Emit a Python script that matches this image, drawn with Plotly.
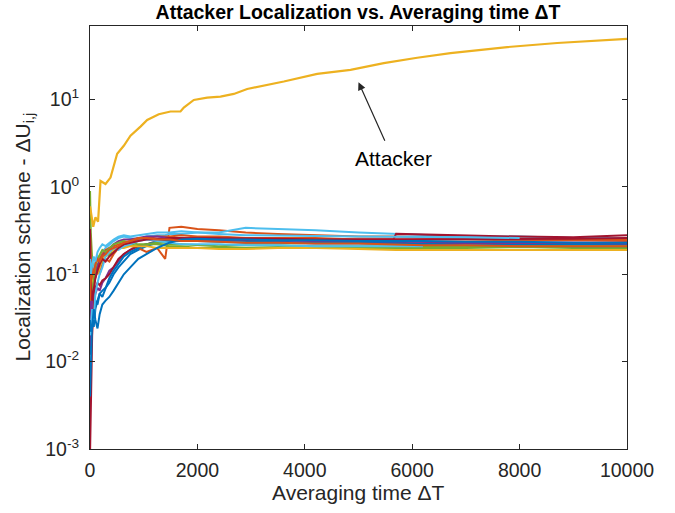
import plotly.graph_objects as go

# ---------------- data ----------------
X_GRID = [1, 15, 40, 70, 100, 140, 180, 230, 290, 360, 440, 530, 630, 750, 900,
          1050, 1250, 1400, 1480, 1700, 2000, 2400, 2900, 3500, 4200, 5000,
          5650, 5700, 6200, 7000, 8000, 9000, 10000]

node_blue_1 = [0.012, 0.03, 0.024, 0.035, 0.05, 0.045, 0.06, 0.065, 0.07, 0.08, 0.1, 0.12, 0.14, 0.17, 0.19, 0.21, 0.23, 0.235, 0.24, 0.245, 0.25, 0.245, 0.24, 0.235, 0.23, 0.23, 0.23, 0.23, 0.225, 0.225, 0.22, 0.22, 0.22]
node_orange_1 = [0.15, 0.06, 0.09, 0.07, 0.1, 0.12, 0.1, 0.13, 0.15, 0.14, 0.17, 0.2, 0.22, 0.21, 0.2, 0.18, 0.2, 0.15, 0.34, 0.35, 0.33, 0.32, 0.3, 0.29, 0.28, 0.27, 0.27, 0.27, 0.265, 0.26, 0.255, 0.25, 0.25]
node_purple_1 = [0.02, 0.015, 0.03, 0.05, 0.06, 0.07, 0.065, 0.08, 0.09, 0.11, 0.12, 0.14, 0.17, 0.19, 0.21, 0.22, 0.23, 0.24, 0.24, 0.25, 0.26, 0.255, 0.25, 0.25, 0.24, 0.24, 0.24, 0.24, 0.235, 0.23, 0.23, 0.23, 0.225]
node_green_1 = [0.9, 0.3, 0.15, 0.1, 0.12, 0.11, 0.13, 0.14, 0.16, 0.17, 0.18, 0.2, 0.21, 0.22, 0.21, 0.22, 0.22, 0.215, 0.21, 0.21, 0.2, 0.2, 0.2, 0.205, 0.2, 0.2, 0.2, 0.2, 0.2, 0.2, 0.205, 0.2, 0.2]
node_lblue_1 = [0.05, 0.04, 0.08, 0.12, 0.14, 0.16, 0.15, 0.18, 0.2, 0.22, 0.24, 0.26, 0.27, 0.26, 0.25, 0.27, 0.28, 0.28, 0.29, 0.29, 0.3, 0.3, 0.34, 0.33, 0.32, 0.3, 0.29, 0.29, 0.28, 0.27, 0.27, 0.26, 0.26]
node_red_1 = [0.0009, 0.004, 0.02, 0.05, 0.07, 0.08, 0.075, 0.085, 0.09, 0.1, 0.12, 0.15, 0.17, 0.19, 0.21, 0.22, 0.24, 0.245, 0.25, 0.25, 0.26, 0.26, 0.25, 0.25, 0.25, 0.25, 0.25, 0.29, 0.285, 0.28, 0.27, 0.265, 0.28]
node_blue_2 = [0.004, 0.01, 0.03, 0.025, 0.04, 0.05, 0.06, 0.055, 0.07, 0.09, 0.11, 0.13, 0.16, 0.18, 0.2, 0.22, 0.235, 0.24, 0.24, 0.24, 0.24, 0.235, 0.23, 0.23, 0.225, 0.225, 0.22, 0.22, 0.22, 0.215, 0.215, 0.21, 0.21]
node_orange_2 = [0.3, 0.12, 0.08, 0.1, 0.09, 0.12, 0.15, 0.17, 0.19, 0.2, 0.21, 0.22, 0.23, 0.24, 0.25, 0.26, 0.27, 0.27, 0.27, 0.28, 0.27, 0.27, 0.26, 0.26, 0.26, 0.25, 0.25, 0.25, 0.25, 0.25, 0.245, 0.245, 0.24]
node_yellow_1 = [0.2, 0.1, 0.07, 0.09, 0.11, 0.1, 0.12, 0.15, 0.16, 0.18, 0.19, 0.2, 0.2, 0.21, 0.21, 0.21, 0.2, 0.2, 0.2, 0.2, 0.2, 0.195, 0.195, 0.2, 0.2, 0.195, 0.19, 0.19, 0.19, 0.19, 0.19, 0.19, 0.19]
node_purple_2 = [0.06, 0.03, 0.05, 0.08, 0.1, 0.13, 0.14, 0.16, 0.18, 0.2, 0.22, 0.24, 0.25, 0.25, 0.26, 0.27, 0.27, 0.265, 0.26, 0.26, 0.25, 0.25, 0.25, 0.245, 0.24, 0.24, 0.235, 0.235, 0.235, 0.23, 0.23, 0.23, 0.23]
node_green_2 = [0.1, 0.05, 0.06, 0.09, 0.12, 0.15, 0.17, 0.19, 0.18, 0.2, 0.22, 0.23, 0.24, 0.23, 0.22, 0.22, 0.23, 0.23, 0.22, 0.22, 0.215, 0.21, 0.215, 0.215, 0.21, 0.21, 0.21, 0.21, 0.21, 0.21, 0.21, 0.21, 0.21]
node_lblue_2 = [0.02, 0.025, 0.04, 0.03, 0.06, 0.08, 0.1, 0.12, 0.16, 0.18, 0.2, 0.19, 0.21, 0.22, 0.24, 0.25, 0.24, 0.235, 0.23, 0.22, 0.22, 0.22, 0.215, 0.215, 0.21, 0.21, 0.21, 0.21, 0.21, None, None, None, None]
node_red_2 = [0.33, 0.08, 0.05, 0.07, 0.09, 0.11, 0.13, 0.15, 0.14, 0.16, 0.18, 0.2, 0.22, 0.23, 0.24, 0.25, 0.25, 0.255, 0.26, 0.26, 0.26, 0.26, 0.255, 0.255, 0.25, 0.25, 0.25, 0.25, 0.25, 0.25, 0.25, 0.255, 0.26]
node_blue_3 = [0.03, 0.022, 0.025, 0.04, 0.03, 0.024, 0.035, 0.045, 0.05, 0.055, 0.065, 0.08, 0.1, 0.12, 0.15, 0.17, 0.2, 0.22, 0.23, 0.25, 0.255, 0.25, 0.25, 0.245, 0.245, 0.24, 0.24, 0.24, 0.24, 0.235, 0.235, 0.23, 0.23]
node_orange_3 = [0.05, 0.09, 0.12, 0.1, 0.13, 0.15, 0.14, 0.16, 0.17, 0.19, 0.2, 0.21, 0.23, 0.24, 0.26, 0.26, 0.25, 0.25, 0.25, 0.24, 0.24, 0.235, 0.23, 0.23, 0.225, 0.225, 0.22, 0.22, 0.215, 0.215, 0.21, 0.21, 0.21]
node_lblue_3 = [0.15, 0.1, 0.13, 0.16, 0.14, 0.18, 0.2, 0.22, 0.21, 0.23, 0.25, 0.27, 0.28, 0.27, 0.28, 0.29, 0.3, 0.3, 0.3, 0.31, 0.3, 0.29, 0.28, 0.28, 0.275, 0.27, 0.27, 0.27, 0.27, 0.265, 0.26, None, None]

ATTACKER_X = [1, 60, 102, 150, 196, 289, 382, 506, 629, 754, 940, 1065, 1281, 1499, 1685,
              1747, 1933, 2182, 2430, 2678, 2927, 3175, 3609, 4231, 4851, 5471, 6093, 6713,
              7769, 8700, 10000]
ATTACKER_Y = [0.6, 0.35, 0.45, 0.4, 1.17, 1.08, 1.28, 2.4, 2.96, 3.86, 4.9, 5.85, 6.8, 7.3, 7.3,
              8.1, 9.9, 10.5, 10.8, 11.6, 13.2, 14.1, 16.1, 19.7, 21.9, 26.1, 30.1, 34.0,
              39.9, 44.4, 49.5]

X_TICKS = [0, 2000, 4000, 6000, 8000, 10000]
Y_TICKS = [1e-3, 1e-2, 1e-1, 1e0, 1e1]
Y_TICK_TEXT = ["10<sup>-3</sup>", "10<sup>-2</sup>", "10<sup>-1</sup>", "10<sup>0</sup>", "10<sup>1</sup>"]
Y_MINOR = [m * 10.0 ** e for e in range(-3, 2) for m in range(2, 10)]

BLUE, ORANGE, YELLOW, PURPLE, GREEN, LBLUE, RED = (
    "#0072BD", "#D95319", "#EDB120", "#7E2F8E", "#77AC30", "#4DBEEE", "#A2142F")

cluster = [
    (node_blue_1, BLUE), (node_orange_1, ORANGE), (node_purple_1, PURPLE),
    (node_green_1, GREEN), (node_lblue_1, LBLUE), (node_red_1, RED),
    (node_blue_2, BLUE), (node_orange_2, ORANGE), (node_yellow_1, YELLOW),
    (node_purple_2, PURPLE), (node_green_2, GREEN), (node_lblue_2, LBLUE),
    (node_red_2, RED), (node_blue_3, BLUE), (node_orange_3, ORANGE),
    (node_lblue_3, LBLUE),
]

FONT = "Liberation Sans, Arial, Helvetica, sans-serif"
AX = "#262626"
Y_RANGE = [-3, 1.842]

fig = go.Figure()
for vals, col in cluster:
    fig.add_trace(go.Scatter(x=X_GRID, y=vals, mode="lines",
                             line=dict(color=col, width=2), connectgaps=False,
                             showlegend=False, hoverinfo="skip"))
fig.add_trace(go.Scatter(x=ATTACKER_X, y=ATTACKER_Y, mode="lines",
                         line=dict(color=YELLOW, width=2.2), showlegend=False))

fig.update_layout(
    width=675, height=513,
    margin=dict(l=90, r=48, t=26, b=64),
    paper_bgcolor="white", plot_bgcolor="white",
    font=dict(family=FONT, color=AX, size=19),
    title=dict(text="<b>Attacker Localization vs. Averaging time ΔT</b>",
               x=358 / 675, xanchor="center", y=1 - 12 / 513, yanchor="middle",
               font=dict(size=19.5, color="black", family=FONT)),
    # overlay axis carrying only the log minor ticks (2..9 of each decade)
    yaxis2=dict(overlaying="y", side="left", type="log", range=Y_RANGE,
                tickmode="array", tickvals=Y_MINOR, showticklabels=False,
                ticks="inside", ticklen=3, tickwidth=1, tickcolor=AX,
                mirror="allticks", showline=True, linecolor=AX, linewidth=1,
                showgrid=False, zeroline=False, fixedrange=True),
)
fig.update_xaxes(range=[0, 10000], tickvals=X_TICKS, ticktext=[str(v) for v in X_TICKS],
                 showgrid=False, zeroline=False, showline=True, linecolor=AX, linewidth=1,
                 mirror="allticks", ticks="inside", ticklen=5, tickcolor=AX,
                 tickfont=dict(size=19.5, color=AX), ticklabelstandoff=4)
fig.update_yaxes(selector=dict(), overwrite=False)
fig.layout.yaxis.update(type="log", range=Y_RANGE, tickvals=Y_TICKS, ticktext=Y_TICK_TEXT,
                        showgrid=False, zeroline=False, showline=True, linecolor=AX, linewidth=1,
                        mirror="allticks", ticks="inside", ticklen=5, tickcolor=AX,
                        tickfont=dict(size=19.5, color=AX), ticklabelstandoff=6)

# axis titles
fig.add_annotation(text="Averaging time ΔT", xref="paper", yref="paper",
                   x=0.5, y=(449 - 492) / 423, xanchor="center", yanchor="middle",
                   showarrow=False, font=dict(size=21, color=AX, family=FONT))
fig.add_annotation(text="Localization scheme - ΔU<sub>i,j</sub>", xref="paper", yref="paper",
                   x=(23 - 90) / 537, y=0.5, xanchor="center", yanchor="middle", textangle=-90,
                   showarrow=False, font=dict(size=21, color=AX, family=FONT))

# attacker annotation: arrow + text
fig.add_annotation(x=5000, y=1.198, xref="x", yref="y", text="", showarrow=True,
                   ax=27, ay=60, arrowhead=2, arrowsize=1.3, arrowwidth=1.2, arrowcolor=AX)
fig.add_annotation(x=5000, y=1.198, xref="x", yref="y", text="Attacker", showarrow=False,
                   xshift=35, yshift=-76, font=dict(size=21, color="black", family=FONT))

fig.write_html("out.html", config={"displayModeBar": False},
               post_script="document.body.style.margin='0';")
